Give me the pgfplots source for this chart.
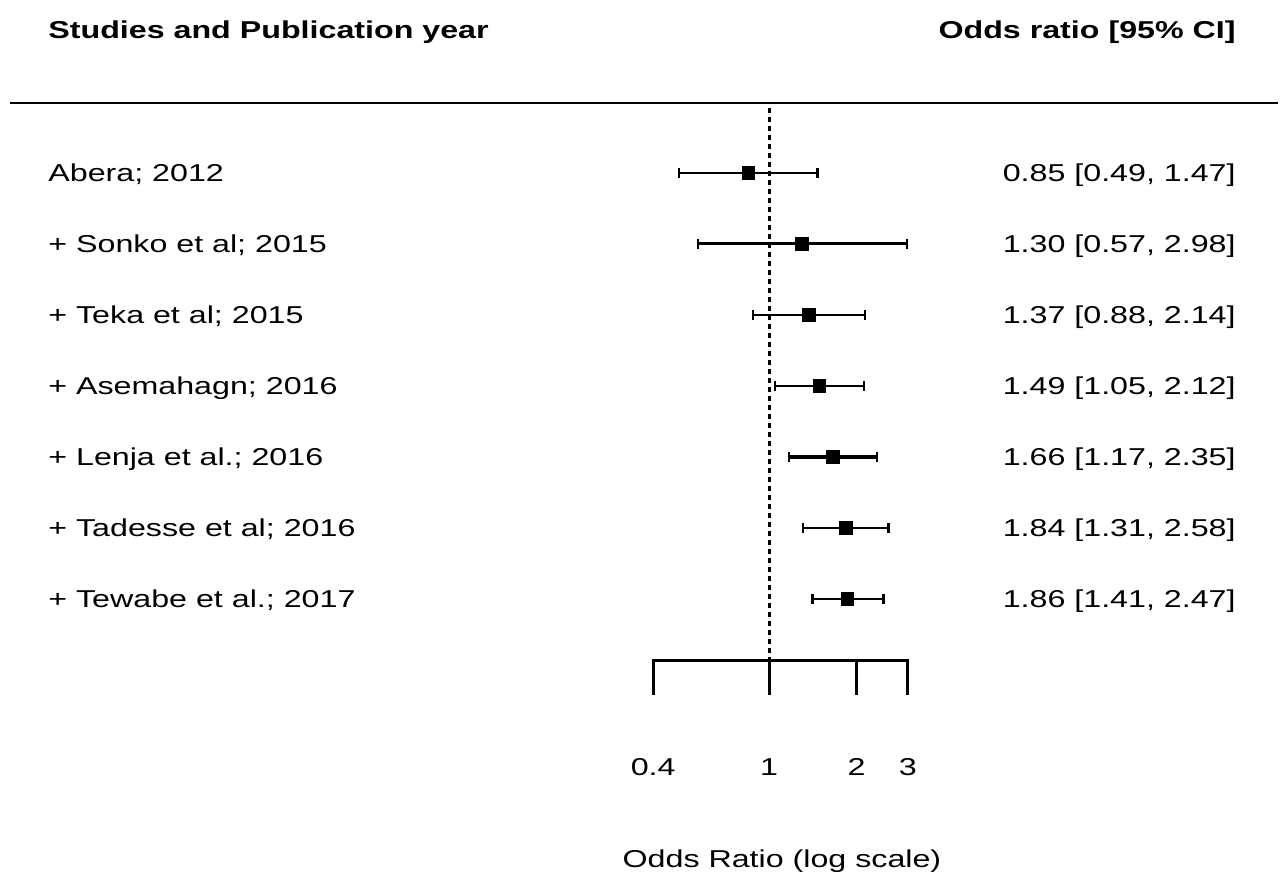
\documentclass[border=0pt]{standalone}
\usepackage{fontspec}
\setmainfont{Liberation Sans}
\usepackage{graphicx}
\usepackage{pgfplots}
\pgfplotsset{compat=1.18}
% text in the reference is horizontally stretched
\newcommand\st[1]{\scalebox{1.32}[1]{#1}}
\tikzset{
  lbl/.style={inner sep=0pt, font=\fontsize{12.2}{14}\selectfont},
  ci/.style={black, mark=|, mark size=2.3pt, mark options={line width=1.3pt, solid}},
  est/.style={black, only marks, mark=square*, mark size=3.2pt},
}
\begin{document}
\begin{tikzpicture}
\begin{axis}[
    hide axis, scale only axis,
    width=640pt, height=440pt,
    xmode=log, xmin=0.002277, xmax=57.02,
    ymin=0, ymax=880, clip=false,
  ]
  \draw[draw=none] (rel axis cs:0,0) rectangle (rel axis cs:1,1);

  % headers and top rule
  \node[lbl, anchor=base west] at (axis cs:0.003329,841) {\st{\textbf{Studies and Publication year}}};
  \node[lbl, anchor=base east] at (axis cs:40.26,841) {\st{\textbf{Odds ratio [95\% CI]}}};
  \addplot[black, line width=1.3pt] coordinates {(0.002466,777) (56.1,777)};

  % reference line at OR = 1
  \addplot[black, line width=1.5pt, dash pattern=on 2.5pt off 2pt] coordinates {(1,772) (1,220)};

  % confidence intervals
  \addplot[ci, line width=1.0pt]  coordinates {(0.49,707) (1.47,707)};
  \addplot[ci, line width=1.5pt]  coordinates {(0.57,636) (2.98,636)};
  \addplot[ci, line width=1.0pt]  coordinates {(0.88,565) (2.14,565)};
  \addplot[ci, line width=0.8pt]  coordinates {(1.05,494) (2.12,494)};
  \addplot[ci, line width=1.8pt]  coordinates {(1.17,423) (2.35,423)};
  \addplot[ci, line width=1.2pt]  coordinates {(1.31,352) (2.58,352)};
  \addplot[ci, line width=1.2pt]  coordinates {(1.41,281) (2.47,281)};

  % point estimates
  \addplot[est] coordinates {(0.85,707) (1.30,636) (1.37,565) (1.49,494) (1.66,423) (1.84,352) (1.86,281)};

  % study labels
  \node[lbl, anchor=base west] at (axis cs:0.003329,698.5) {\st{Abera; 2012}};
  \node[lbl, anchor=base west] at (axis cs:0.003329,627.5) {\st{+ Sonko et al; 2015}};
  \node[lbl, anchor=base west] at (axis cs:0.003329,556.5) {\st{+ Teka et al; 2015}};
  \node[lbl, anchor=base west] at (axis cs:0.003329,485.5) {\st{+ Asemahagn; 2016}};
  \node[lbl, anchor=base west] at (axis cs:0.003329,414.5) {\st{+ Lenja et al.; 2016}};
  \node[lbl, anchor=base west] at (axis cs:0.003329,343.5) {\st{+ Tadesse et al; 2016}};
  \node[lbl, anchor=base west] at (axis cs:0.003329,272.5) {\st{+ Tewabe et al.; 2017}};

  % estimates text
  \node[lbl, anchor=base east] at (axis cs:40.26,698.5) {\st{0.85 [0.49, 1.47]}};
  \node[lbl, anchor=base east] at (axis cs:40.26,627.5) {\st{1.30 [0.57, 2.98]}};
  \node[lbl, anchor=base east] at (axis cs:40.26,556.5) {\st{1.37 [0.88, 2.14]}};
  \node[lbl, anchor=base east] at (axis cs:40.26,485.5) {\st{1.49 [1.05, 2.12]}};
  \node[lbl, anchor=base east] at (axis cs:40.26,414.5) {\st{1.66 [1.17, 2.35]}};
  \node[lbl, anchor=base east] at (axis cs:40.26,343.5) {\st{1.84 [1.31, 2.58]}};
  \node[lbl, anchor=base east] at (axis cs:40.26,272.5) {\st{1.86 [1.41, 2.47]}};

  % bracket-style x axis
  \addplot[black, line width=1.5pt] coordinates {(0.4,185) (0.4,220) (3,220) (3,185)};
  \addplot[black, line width=1.5pt] coordinates {(1,220) (1,185)};
  \addplot[black, line width=1.5pt] coordinates {(2,220) (2,185)};
  \node[lbl, anchor=base] at (axis cs:0.4,105) {\st{0.4}};
  \node[lbl, anchor=base] at (axis cs:1,105) {\st{1}};
  \node[lbl, anchor=base] at (axis cs:2,105) {\st{2}};
  \node[lbl, anchor=base] at (axis cs:3,105) {\st{3}};
  \node[lbl, anchor=base] at (axis cs:1.108,13) {\st{Odds Ratio (log scale)}};
\end{axis}
\end{tikzpicture}
\end{document}
